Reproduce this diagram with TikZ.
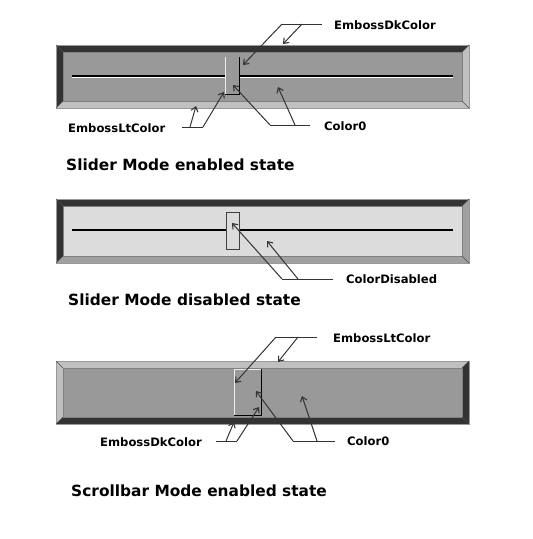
\documentclass[tikz,border=0pt]{standalone}
\usepackage{fontspec}
\setmainfont{DejaVu Sans}
\usetikzlibrary{arrows.meta}
\definecolor{bdark}{HTML}{333333}
\definecolor{blight}{HTML}{C0C0C0}
\definecolor{bmid}{HTML}{A0A0A0}
\definecolor{face}{HTML}{999999}
\definecolor{dface}{HTML}{DCDCDC}
\definecolor{leadc}{HTML}{333333}
\newcommand\bevelbar[8]{%
  \fill[#7] (#1,#2) rectangle (#3,#4);
  \fill[#6] (#1,#2) -- (#3,#2) -- ({#3-#5},{#2+#5}) -- ({#1+#5},{#2+#5}) -- ({#1+#5},{#4-#5}) -- (#1,#4) -- cycle;
  \fill[#8] ({#1+#5},{#2+#5}) rectangle ({#3-#5},{#4-#5});
  \draw[gray!80,line width=0.6pt] (#1,#2) rectangle (#3,#4);
  \draw[gray,line width=0.5pt] ({#1+#5},{#2+#5}) rectangle ({#3-#5},{#4-#5});
  \draw[gray!60!black,line width=0.4pt] (#1,#2) -- ({#1+#5},{#2+#5}) (#3,#2) -- ({#3-#5},{#2+#5}) (#1,#4) -- ({#1+#5},{#4-#5}) (#3,#4) -- ({#3-#5},{#4-#5});
}
\begin{document}
\begin{tikzpicture}[x=1pt,y=-1pt,
  lead/.style={leadc,line width=1pt},
  arr/.style={-{Straight Barb[length=4.5pt,width=7pt,line width=1.1pt]}},
  lbl/.style={font=\bfseries\fontsize{11.6}{13}\selectfont,anchor=west,inner sep=0pt},
  captxt/.style={font=\bfseries\fontsize{15.4}{18}\selectfont,anchor=west,inner sep=0pt}]
\useasboundingbox[fill=white] (0,0) rectangle (533,539);

% ---------- Slider 1 (enabled)
\bevelbar{56}{45}{469}{108}{7}{bdark}{blight}{face}
\draw[black,line width=1.1pt] (72,76) -- (453,76);
\draw[white,line width=1.1pt] (72,77.3) -- (453,77.3);
\fill[face] (225,57) rectangle (239,94);
\draw[white!85!gray,line width=1pt] (225.5,57) -- (225.5,94);
\draw[black,line width=1pt] (239,57) -- (239,94) -- (225,94);

\node[lbl] (l1) at (334,25) {EmbossDkColor};
\coordinate (a1) at (282,24); \coordinate (b1) at (302,24); \coordinate (e1) at (322,24);
\draw[lead] (a1) -- (e1);
\draw[lead,arr] (a1) -- (243,65);
\draw[lead,arr] (b1) -- (283,44);

\node[lbl] (l2) at (68,128) {EmbossLtColor};
\coordinate (a2) at (182,127); \coordinate (b2) at (190,127); \coordinate (e2) at (203,127);
\draw[lead] (a2) -- (e2);
\draw[lead,arr] (b2) -- (196,106);
\draw[lead,arr] (e2) -- (224,92);

\node[lbl] (l3) at (324,126) {Color0};
\coordinate (a3) at (270,125); \coordinate (b3) at (295,125); \coordinate (e3) at (310,125);
\draw[lead] (a3) -- (e3);
\draw[lead,arr] (a3) -- (233,85);
\draw[lead,arr] (b3) -- (278,87);

\node[captxt] (c1) at (66,165) {Slider Mode enabled state};

% ---------- Slider 2 (disabled)
\bevelbar{56}{199}{469}{263}{7}{bdark}{bmid}{dface}
\draw[black,line width=1.1pt] (72,230) -- (453,230);
\filldraw[fill=dface,draw=black!75,line width=0.8pt] (226,212) rectangle (239,249);

\node[lbl] (l4) at (346,279) {ColorDisabled};
\coordinate (a4) at (282,279); \coordinate (b4) at (298,279); \coordinate (e4) at (333,279);
\draw[lead] (a4) -- (e4);
\draw[lead,arr] (a4) -- (232,223);
\draw[lead,arr] (b4) -- (267,241);

\node[captxt] (c2) at (68,300) {Slider Mode disabled state};

% ---------- Scrollbar (enabled)
\bevelbar{56}{361}{469}{424}{7}{blight}{bdark}{face}
\fill[face] (234,369) rectangle (261,415);
\draw[white!85!gray,line width=1pt] (234.5,415) -- (234.5,369.5) -- (261,369.5);
\draw[black,line width=1pt] (261,369) -- (261,415) -- (234,415);

\node[lbl] (l5) at (333,338) {EmbossLtColor};
\coordinate (a5) at (276,337); \coordinate (b5) at (298,337); \coordinate (e5) at (317,337);
\draw[lead] (a5) -- (e5);
\draw[lead,arr] (a5) -- (235,383);
\draw[lead,arr] (b5) -- (278,362);

\node[lbl] (l6) at (100,442) {EmbossDkColor};
\coordinate (a6) at (216,441); \coordinate (b6) at (226,441); \coordinate (e6) at (237,441);
\draw[lead] (a6) -- (e6);
\draw[lead,arr] (b6) -- (234,422);
\draw[lead,arr] (e6) -- (259,407);

\node[lbl] (l7) at (347,441) {Color0};
\coordinate (a7) at (293,441); \coordinate (b7) at (317,441); \coordinate (e7) at (335,441);
\draw[lead] (a7) -- (e7);
\draw[lead,arr] (a7) -- (256,391);
\draw[lead,arr] (b7) -- (302,396);

\node[captxt] (c3) at (71,491) {Scrollbar Mode enabled state};
\end{tikzpicture}
\end{document}
